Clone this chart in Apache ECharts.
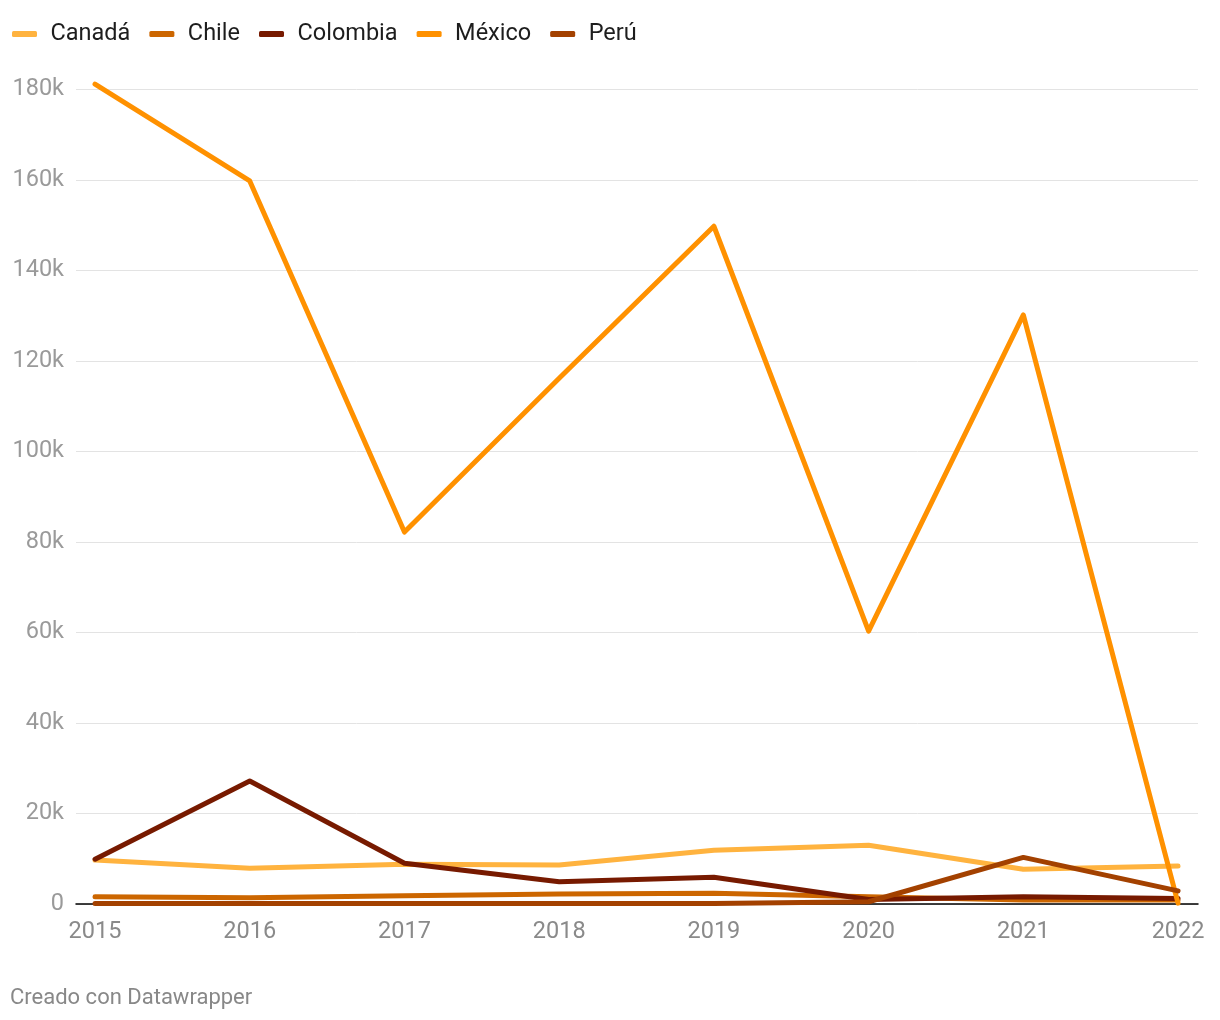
<!DOCTYPE html>
<html>
<head>
<meta charset="utf-8">
<script src="https://cdn.jsdelivr.net/npm/echarts@6/dist/echarts.min.js"></script>
<style>
  html, body { margin: 0; padding: 0; background: #fff; }
  #chart { width: 1220px; height: 1020px; }
</style>
</head>
<body>
<div id="chart"></div>
<script>
// años y valores (personas)
const years = [2015, 2016, 2017, 2018, 2019, 2020, 2021, 2022]
const canada = [9700, 7900, 8800, 8600, 11900, 13000, 7700, 8400]
const chile = [1600, 1400, 1800, 2200, 2400, 1600, 900, 900]
const colombia = [9900, 27200, 9000, 4900, 5900, 1000, 1600, 1200]
const mexico = [181200, 159800, 82200, 116200, 149800, 60300, 130200, 200]
const peru = [100, 100, 100, 100, 100, 500, 10300, 2900]
const yTicks = [0, 20000, 40000, 60000, 80000, 100000, 120000, 140000, 160000, 180000]

const seriesDefs = [
  { name: 'Canadá', data: canada, color: '#ffb33f' },
  { name: 'Chile', data: chile, color: '#cc6600' },
  { name: 'Colombia', data: colombia, color: '#771a00' },
  { name: 'México', data: mexico, color: '#ff9100' },
  { name: 'Perú', data: peru, color: '#a34100' }
]

const chart = echarts.init(document.getElementById('chart'))

const font = 'Roboto'

chart.setOption({
  animation: false,
  textStyle: { fontFamily: font },
  legend: {
    left: 7,
    top: 17,
    icon: 'roundRect',
    itemWidth: 25,
    itemHeight: 6,
    itemGap: 19,
    textStyle: { fontSize: 23.5, color: '#1d1d1d', padding: [0, 0, 0, 8.5] },
    data: seriesDefs.map(s => s.name)
  },
  grid: {
    left: 76,
    right: 22,
    top: 89.6,
    bottom: 116
  },
  xAxis: {
    type: 'value',
    min: 2014.877,
    max: 2022.129,
    axisLine: { show: true, lineStyle: { color: '#000', width: 1.5 } },
    axisTick: { show: false },
    splitLine: { show: false },
    axisLabel: {
      customValues: years,
      color: '#8a8a8a',
      fontSize: 23.5,
      margin: 16,
      formatter: v => String(v)
    }
  },
  yAxis: {
    type: 'value',
    min: yTicks[0],
    max: yTicks[yTicks.length - 1],
    interval: 20000,
    axisLine: { show: false },
    axisTick: { show: false },
    axisLabel: {
      color: '#9a9a9a',
      fontSize: 23.5,
      margin: 12,
      formatter: v => (v === 0 ? '0' : v / 1000 + 'k')
    },
    splitLine: { lineStyle: { color: '#e3e3e3', width: 1 } }
  },
  series: seriesDefs.map(s => ({
    name: s.name,
    type: 'line',
    data: years.map((y, i) => [y, s.data[i]]),
    symbol: 'none',
    clip: false,
    color: s.color,
    lineStyle: { color: s.color, width: 5, cap: 'round', join: 'round' }
  })),
  graphic: [
    {
      type: 'text',
      left: 10,
      top: 987,
      style: {
        text: 'Creado con Datawrapper',
        fill: '#888',
        fontSize: 22,
        fontFamily: font
      }
    }
  ]
})
</script>
</body>
</html>
